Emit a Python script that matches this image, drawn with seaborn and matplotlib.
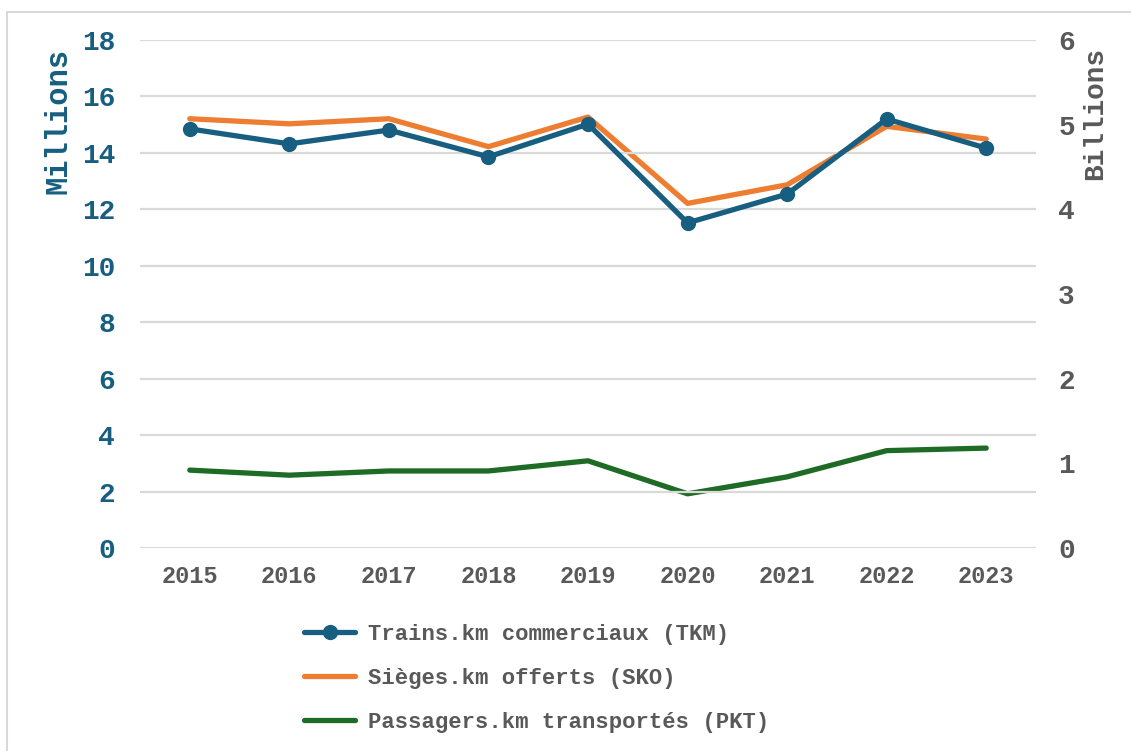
import matplotlib
matplotlib.use("Agg")
import matplotlib.pyplot as plt
import seaborn as sns
import pandas as pd
from matplotlib.patches import Rectangle

years = ["2015", "2016", "2017", "2018", "2019", "2020", "2021", "2022", "2023"]
tkm_millions = [14.85, 14.32, 14.81, 13.86, 15.02, 11.52, 12.54, 15.20, 14.17]
sko_billions = [5.07, 5.01, 5.07, 4.74, 5.09, 4.07, 4.29, 4.98, 4.83]
pkt_billions = [0.92, 0.86, 0.91, 0.91, 1.03, 0.64, 0.84, 1.15, 1.18]
left_ticks = [0, 2, 4, 6, 8, 10, 12, 14, 16, 18]
right_ticks = [0, 1, 2, 3, 4, 5, 6]
labels = ["Trains.km commerciaux (TKM)", "Sièges.km offerts (SKO)", "Passagers.km transportés (PKT)"]

BLUE = "#185E80"
ORANGE = "#ED7D31"
GREEN = "#1E6B25"
GRAY = "#595959"
MONO = ["Liberation Mono", "DejaVu Sans Mono"]

sns.set_theme(style="white")
plt.rcParams["font.family"] = MONO

df = pd.DataFrame({"year": years, "tkm": tkm_millions, "sko": sko_billions, "pkt": pkt_billions})
df["x"] = range(len(years))

W, H = 1131, 751
fig = plt.figure(figsize=(W / 100, H / 100), dpi=100)
ax = fig.add_axes([140 / W, 1 - 548 / H, (1036 - 140) / W, (548 - 40) / H])
ax2 = ax.twinx()

sns.lineplot(data=df, x="x", y="tkm", ax=ax, color=BLUE, linewidth=3.8, marker="o",
             markersize=11, markeredgewidth=0, label=labels[0], legend=False, zorder=3)
sns.lineplot(data=df, x="x", y="sko", ax=ax2, color=ORANGE, linewidth=3.8,
             label=labels[1], legend=False, zorder=2)
sns.lineplot(data=df, x="x", y="pkt", ax=ax2, color=GREEN, linewidth=3.8,
             label=labels[2], legend=False, zorder=2)

ax.set_zorder(ax2.get_zorder() + 1)
ax.patch.set_visible(False)

ax.set_xlim(-0.5, len(years) - 0.5)
ax.set_ylim(0, 18)
ax2.set_ylim(0, 6)
ax.set_yticks(left_ticks)
ax2.set_yticks(right_ticks)
ax.set_xticks(range(len(years)))
ax.set_xticklabels(years)

ax.grid(axis="y", color="#D9D9D9", linewidth=1.6)
ax.set_axisbelow(True)
ax2.grid(False)

for a in (ax, ax2):
    for s in a.spines.values():
        s.set_visible(False)
    a.tick_params(length=0)

ax.tick_params(axis="y", labelcolor=BLUE, labelsize=20, pad=18)
ax2.tick_params(axis="y", labelcolor=GRAY, labelsize=20, pad=16)
ax.tick_params(axis="x", labelcolor=GRAY, labelsize=17, pad=12)
for t in ax.get_yticklabels() + ax2.get_yticklabels() + ax.get_xticklabels():
    t.set_fontweight("bold")
    t.set_family(MONO)

ax.set_xlabel("")
ax.set_ylabel("Millions", color=BLUE, fontsize=22, fontweight="bold", va="center")
ax.yaxis.set_label_coords((58 - 140) / 896, (548 - 121) / 508)
ax2.set_ylabel("Billions", color=GRAY, fontsize=20, fontweight="bold", va="center", rotation=90)
ax2.yaxis.set_label_coords((1095 - 140) / 896, (548 - 113) / 508)

h1, l1 = ax.get_legend_handles_labels()
h2, l2 = ax2.get_legend_handles_labels()
leg = fig.legend(h1 + h2, l1 + l2, loc="upper center", bbox_to_anchor=(537 / W, 1 - 604 / H),
                 frameon=False, ncol=1, handlelength=2.27, handletextpad=0.6, labelspacing=1.03,
                 prop={"family": MONO, "weight": "bold", "size": 16})
for t in leg.get_texts():
    t.set_color(GRAY)

fig.patches.append(Rectangle((7 / W, -0.1), 1.2, 1 - 12 / H + 0.1, transform=fig.transFigure,
                             fill=False, edgecolor="#D9D9D9", linewidth=1.5, zorder=-1))

fig.savefig("out.png", dpi=100)
